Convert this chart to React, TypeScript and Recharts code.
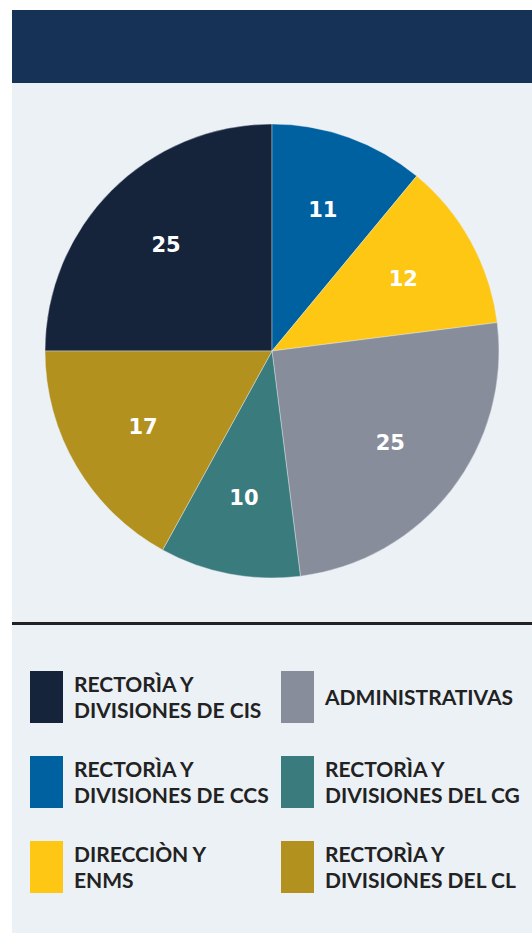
import { Cell, Pie, PieChart } from "recharts";

const CATEGORIES = [
  "RECTORÌA Y DIVISIONES DE CIS",
  "RECTORÌA Y DIVISIONES DE CCS",
  "DIRECCIÒN Y ENMS",
  "ADMINISTRATIVAS",
  "RECTORÌA Y DIVISIONES DEL CG",
  "RECTORÌA Y DIVISIONES DEL CL",
];

// legend text is broken in two lines like the original
const LEGEND_LINES = [
  ["RECTORÌA Y", "DIVISIONES DE CIS"],
  ["RECTORÌA Y", "DIVISIONES DE CCS"],
  ["DIRECCIÒN Y", "ENMS"],
  ["ADMINISTRATIVAS"],
  ["RECTORÌA Y", "DIVISIONES DEL CG"],
  ["RECTORÌA Y", "DIVISIONES DEL CL"],
];

const VALUES = [25, 11, 12, 25, 10, 17];

const COLOURS = [
  "#16243b",
  "#0061a1",
  "#fdc713",
  "#878d9b",
  "#3a7b7e",
  "#b2911f",
];

const data = CATEGORIES.map((name, i) => ({ name, value: VALUES[i] }));

const RAD = Math.PI / 180;

function SliceLabel(props: any) {
  const { cx, cy, midAngle, outerRadius, value } = props;
  const r = outerRadius * 0.66;
  const x = cx + r * Math.cos(-midAngle * RAD);
  const y = cy + r * Math.sin(-midAngle * RAD);
  return (
    <text
      x={x}
      y={y}
      fill="#ffffff"
      textAnchor="middle"
      dominantBaseline="central"
      fontFamily="'DejaVu Sans', sans-serif"
      fontWeight={700}
      fontSize={21}
    >
      {value}
    </text>
  );
}

export default function App() {
  const col = (i: number) => (i < 3 ? 0 : 1);
  const row = (i: number) => i % 3;

  return (
    <div
      style={{
        position: "absolute",
        left: 12,
        top: 10,
        width: 520,
        height: 923,
        overflow: "hidden",
        background: "#ecf1f6",
      }}
    >
      <div style={{ height: 73, background: "#163257" }} />
      <div style={{ position: "absolute", left: 0, top: 73 }}>
        <PieChart
          width={520}
          height={530}
          margin={{ top: 0, right: 0, bottom: 0, left: 0 }}
        >
          <Pie
            data={data}
            dataKey="value"
            nameKey="name"
            cx={260}
            cy={268}
            outerRadius={227}
            startAngle={180}
            endAngle={-180}
            stroke="#ecf1f6"
            strokeWidth={0.4}
            label={SliceLabel}
            labelLine={false}
            isAnimationActive={false}
          >
            {data.map((d, i) => (
              <Cell key={d.name} fill={COLOURS[i]} />
            ))}
          </Pie>
        </PieChart>
      </div>
      <div
        style={{
          position: "absolute",
          left: 0,
          top: 612,
          width: 520,
          height: 3,
          background: "#222222",
        }}
      />
      {LEGEND_LINES.map((lines, i) => (
        <div
          key={CATEGORIES[i]}
          style={{
            position: "absolute",
            left: col(i) === 0 ? 18 : 269,
            top: 661 + row(i) * 85,
            height: 52,
            display: "flex",
            alignItems: "center",
            whiteSpace: "nowrap",
          }}
        >
          <div
            style={{ width: 33, height: 52, background: COLOURS[i] }}
          />
          <div
            style={{
              marginLeft: 11,
              fontFamily: "Lato, sans-serif",
              fontWeight: 700,
              fontSize: 21,
              lineHeight: "26px",
              color: "#222222",
            }}
          >
            {lines.map((l) => (
              <div key={l}>{l}</div>
            ))}
          </div>
        </div>
      ))}
    </div>
  );
}
